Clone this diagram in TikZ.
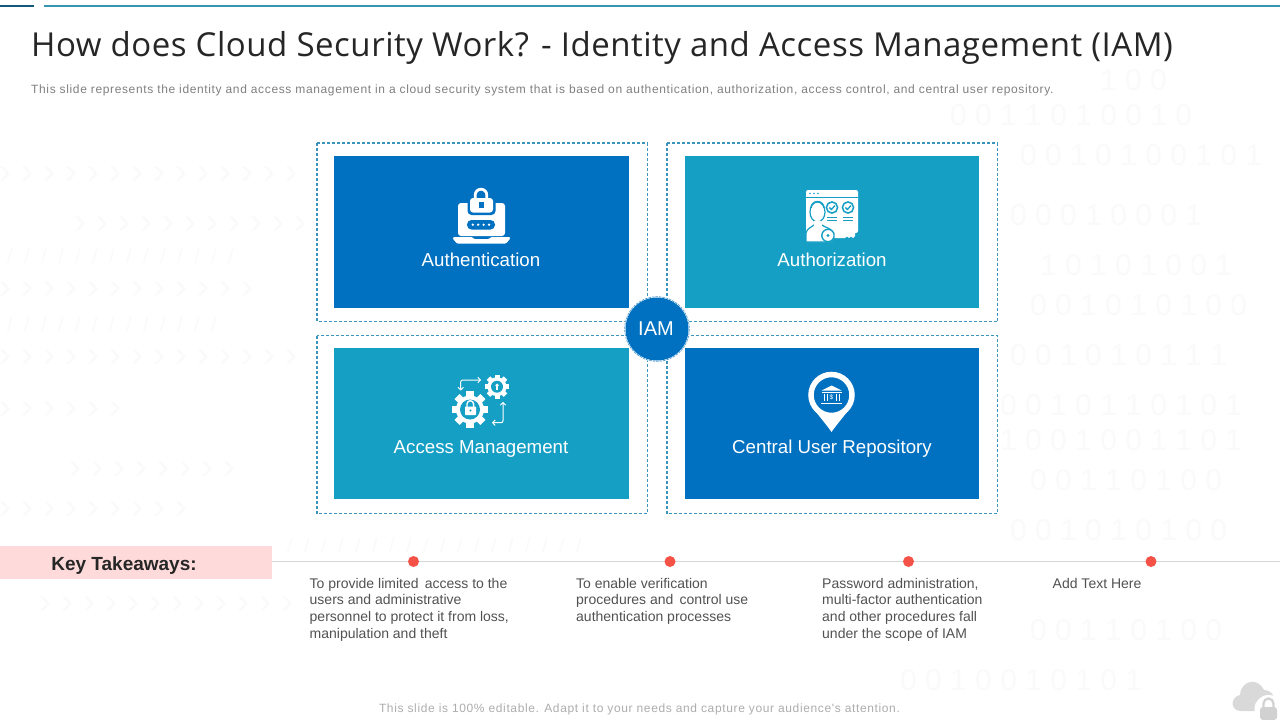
\documentclass[tikz,border=0pt]{standalone}
\usepackage{fontspec}
\usetikzlibrary{arrows.meta}
\setmainfont{Liberation Sans}
\newfontfamily\titlefont[LetterSpace=1.6]{Open Sans}
\newfontfamily\subfont[LetterSpace=5.3]{Liberation Sans}
\newcommand{\fs}[1]{\fontsize{#1}{#1}\selectfont}
\definecolor{deepblue}{HTML}{0070C0}
\definecolor{tealblue}{HTML}{169FC4}
\definecolor{dashblue}{HTML}{1A7FA8}
\definecolor{framedash}{HTML}{3A94BC}
\definecolor{dotred}{HTML}{F55247}
\definecolor{pinkband}{HTML}{FFDADA}
\definecolor{faintbg}{HTML}{FAFAFA}
\tikzset{
  x=1pt,y=-1pt,
  framebox/.style={color=framedash,dash pattern=on 3pt off 2pt,line width=1.1pt,fill=white},
  ttext/.style={font=\fs{18.7},text=white,inner sep=0},
  note/.style={font=\fontsize{14}{16.6}\selectfont,text=black!68,align=left,anchor=north west,inner sep=0},
  tdot/.style={circle,fill=dotred,minimum size=11pt,inner sep=0},
  digit/.style={font=\fs{30},text=faintbg,inner sep=0},
  chev/.style={font=\fs{36},text=faintbg,inner sep=0},
  barb/.style={white,line width=1pt,rounded corners=2pt,{Straight Barb[length=2.5pt,width=5.5pt]}-{Straight Barb[length=2.5pt,width=5.5pt]}},
}
\begin{document}
\begin{tikzpicture}
\useasboundingbox (0,0) rectangle (1280,720);
\fill[white] (0,0) rectangle (1280,720);
% faint background texture
\foreach \yy/\xs/\txt in {
 80/1100/{1 0 0}, 115/950/{0 0 1 1 0 1 0 0 1 0}, 155/1020/{0 0 1 0 1 0 0 1 0 1}, 215/1010/{0 0 0 1 0 0 0 1},
 265/1040/{1 0 1 0 1 0 0 1}, 305/1030/{0 0 1 0 1 0 1 0 0}, 355/1010/{0 0 1 0 1 0 1 1 1}, 405/1000/{0 0 1 0 1 1 0 1 0 1}, 440/1000/{1 0 0 1 0 0 1 1 0 1},
 480/1030/{0 0 1 1 0 1 0 0}, 530/1010/{0 0 1 0 1 0 1 0 0}, 630/1030/{0 0 1 1 0 1 0 0}, 680/900/{0 0 1 0 0 1 0 1 0 1}}{
  \node[digit,anchor=west] at (\xs,\yy) {\txt};
}
\foreach \yy/\xs/\n in {175/5/14, 225/80/11, 290/5/12, 358/5/14, 410/5/6, 470/75/8, 510/5/9, 605/45/12}{
  \foreach \k in {1,...,\n}{
    \node[chev] at ({\xs+(\k-1)*22},\yy) {›};
  }
}
\foreach \yy/\xs/\n in {545/290/18, 256/10/14, 324/10/13}{
  \foreach \k in {1,...,\n}{
    \node[font=\fs{20},text=faintbg,inner sep=0] at ({\xs+(\k-1)*17},\yy) {/};
  }
}
% top rules
\draw[line width=1.8pt,color=dashblue!70!black] (0,6) -- (34,6);
\draw[line width=1.8pt,color=tealblue!70!gray] (44,6) -- (1280,6);
% title
\node[anchor=west,inner sep=0,text=black!85] (title) at (31,48.3) {\fs{33}\titlefont How does Cloud Security Work? - Identity and Access Management (IAM)};
\node[anchor=west,inner sep=0,text=black!50] (sub) at (31,90.5) {\fs{12}\subfont This slide represents the identity and access management in a cloud security system that is based on authentication, authorization, access control, and central user repository.};
% frames
\filldraw[framebox] (317,143) rectangle (647.5,321.5);
\filldraw[framebox] (667,143) rectangle (997.5,321.5);
\filldraw[framebox] (317,335.5) rectangle (647.5,513.5);
\filldraw[framebox] (667,335.5) rectangle (997.5,513.5);
% tiles
\fill[deepblue] (334,156) rectangle (629,308);
\fill[tealblue] (685,156) rectangle (979,308);
\fill[tealblue] (334,348) rectangle (629,499);
\fill[deepblue] (685,348) rectangle (979,499);
\node[ttext] (auth) at (481,259.5) {Authentication};
\node[ttext] (autz) at (832,259.5) {Authorization};
\node[ttext] (acc) at (481,449.5) {Access Management};
\node[ttext] (cur) at (832,449) {Central User Repository};
% authentication icon
\fill[white,rounded corners=3pt] (458,203) rectangle (505,236);
\fill[white,rounded corners=1pt] (453,237) -- (472,237) -- (474,239) -- (489,239) -- (491,237) -- (510,237) -- (510,239) -- (506,243.5) -- (457,243.5) -- (453,239) -- cycle;
\fill[deepblue,rounded corners=4pt] (467.5,195) rectangle (495.5,215);
\draw[white,line width=2.8pt] (475.2,199) -- (475.2,195) arc[start angle=180,end angle=360,radius=5.8] -- (486.8,199);
\fill[white,rounded corners=3pt] (470,198) rectangle (493,212.5);
\fill[deepblue] (479,202) rectangle (484,208);
\fill[deepblue,rounded corners=4.5pt] (467,220) rectangle (495,229.5);
\foreach \dx in {472.8,478.2,483.6,489}{\fill[white] (\dx,224.7) circle (1.3);}
% authorization icon
\fill[white,rounded corners=2pt] (806,190) rectangle (858,233);
\foreach \dx in {810,814,818}{\fill[tealblue] (\dx,193.5) circle (.9);}
\draw[tealblue,line width=.8pt] (806,197) -- (858,197);
\foreach \cx in {832,848}{
  \draw[tealblue,line width=1.5pt] (\cx,207.5) circle (5.6);
  \draw[tealblue,line width=1.3pt] (\cx-2.6,207.5) -- (\cx-.6,209.5) -- (\cx+3,205.5);
  \draw[tealblue,line width=1pt] (\cx-5,217) -- (\cx+5,217) (\cx-5,220.7) -- (\cx+5,220.7);
}
\fill[white,draw=tealblue,line width=1.2pt] (806,242) -- (806,233) .. controls (807,228) and (812,227) .. (814,225) -- (822,225) .. controls (824,227) and (830,228) .. (832,231) -- (832,242) -- cycle;
\fill[white,draw=tealblue,line width=1.2pt] (817.5,212) ellipse (7.5 and 10);
\draw[tealblue,line width=1.4pt] (811,208) arc[start angle=180,end angle=360,radius=6.5];
\fill[white] (813.5,221) rectangle (821.5,226.5);
\fill[white,draw=tealblue,line width=1.4pt] (828,235.5) circle (6.2);
\fill[tealblue] (828,235.5) circle (1.6);
\fill[white] (834.5,233) -- (855,233) -- (855,236) -- (853,238) -- (851,236.5) -- (849,238) -- (847,236.5) -- (845,238) -- (834.5,238) -- cycle;
% access management icon
\def\gear#1#2#3#4#5{%
  \fill[white] (#1,#2) circle (#3);
  \foreach \a in {0,45,...,315}{
    \fill[white,rotate around={\a:(#1,#2)}] (#1-#4,#2-#5) rectangle (#1+#4,#2-#3+1);
  }
}
\gear{470}{409.5}{14}{3.6}{18.3}
\fill[tealblue] (470,409.5) circle (10);
\draw[white,line width=1.4pt] (467,407) -- (467,404) arc[start angle=180,end angle=360,radius=3.3] -- (473.6,407);
\fill[white,rounded corners=.7pt] (465,406.5) rectangle (476,415);
\fill[tealblue] (470.5,410.5) circle (1.2);
\gear{497}{386.7}{9.5}{2.5}{12}
\fill[tealblue] (497,386.7) circle (6);
\fill[white] (497,385.3) circle (1.8);
\fill[white] (496.1,385) rectangle (497.9,390.2);
\draw[barb] (460.7,390.5) -- (460.7,380) -- (481,380);
\draw[barb] (492,422.7) -- (503,422.7) -- (503,402);
% repository icon
\fill[white] (813,408) .. controls (822,420) and (826,424) .. (831.5,432) .. controls (837,424) and (841,420) .. (850,408) -- cycle;
\draw[white,line width=5.5pt,fill=deepblue] (831.5,395) circle (20.5);
\fill[white] (831.5,385.5) -- (841.5,390.5) -- (821.5,390.5) -- cycle;
\draw[white,line width=.9pt] (821.5,392) -- (841.5,392);
\foreach \dx in {824,827,836,839}{\draw[white,line width=.9pt] (\dx,393.5) -- (\dx,401);}
\node[font=\fs{6.5},text=white,inner sep=0] at (831.5,397.3) {\$};
\draw[white,line width=1pt] (821,403.3) -- (842,403.3);
% IAM hub
\fill[white] (657,329) circle (33);
\fill[deepblue] (657,329) circle (31.5);
\draw[deepblue!70,dash pattern=on 2.5pt off 1pt,line width=.7pt] (657,329) circle (32.3);
\node[font=\fs{20},text=white,inner sep=0] (iam) at (656,329) {IAM};
% key takeaways
\fill[pinkband] (0,546) rectangle (272,579);
\node[font=\fs{19}\bfseries,text=black!85,inner sep=0] (kt) at (124,566) {Key Takeaways:};
\coordinate (tlend) at (1280,561.5);
\coordinate (tlstart) at (272,561.5);
\draw[black!16,line width=.7pt] (tlstart) -- (tlend);
\node[tdot] (d1) at (413.5,561.5) {};
\node[tdot] (d2) at (670,561.5) {};
\node[tdot] (d3) at (908.5,561.5) {};
\node[tdot] (d4) at (1151,561.5) {};
\node[note] at (309.5,578) {To provide limited\, access to the\\users and administrative\\personnel to protect it from loss,\\manipulation and theft};
\node[note] at (576,578) {To enable verification\\procedures and\, control use\\authentication processes};
\node[note] at (822,578) {Password administration,\\multi-factor authentication\\and other procedures fall\\under the scope of IAM};
\node[note] at (1052.5,578) {Add Text Here};
% footer
\node[inner sep=0,text=black!32] (foot) at (639.5,709.5) {\fs{12}\subfont This slide is 100\% editable. Adapt it to your needs and capture your audience's attention.};
% cloud lock
\fill[black!15] (1241,711) .. controls (1230,711) and (1230,697) .. (1240,695) .. controls (1241,680) and (1258,677) .. (1264,690) .. controls (1268,690) and (1271,692) .. (1273,695) -- (1262,711) -- cycle;
\fill[white] (1268.5,709) circle (14);
\draw[black!18,line width=2.2pt] (1263.5,708) -- (1263.5,703.5) arc[start angle=180,end angle=360,radius=5] -- (1273.5,708);
\fill[black!18,rounded corners=3pt] (1260,707) rectangle (1277,720);
\end{tikzpicture}
\end{document}
